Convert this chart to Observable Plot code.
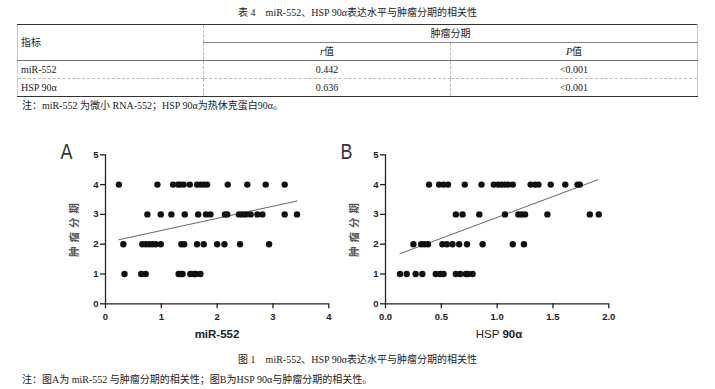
<!DOCTYPE html>
<html><head><meta charset="utf-8">
<script src="https://cdn.jsdelivr.net/npm/d3@7"></script>
<script src="https://cdn.jsdelivr.net/npm/@observablehq/plot@0.6"></script>
<style>
body{margin:0;background:#fff;}
#page{position:relative;width:715px;height:389px;overflow:hidden;font-family:"Liberation Serif","Noto Sans CJK SC",serif;color:#222;}
.abs{position:absolute;white-space:nowrap;}
.cap{font-size:10px;line-height:12px;}
table{position:absolute;left:17px;top:24px;border-collapse:collapse;font-size:10px;table-layout:fixed;}
td{padding:0;height:17px;line-height:17px;vertical-align:middle;}
.plotbox{position:absolute;top:138px;}
</style></head><body><div id="page">
<div class="abs cap" id="t4" style="left:0;width:715px;text-align:center;top:7px;"></div>
<table id="tbl"></table>
<div class="abs cap" id="tnote" style="left:22px;top:100px;"></div>
<div class="plotbox" id="pa" style="left:50px;"></div>
<div class="plotbox" id="pb" style="left:330px;"></div>
<div class="abs cap" id="fcap" style="left:0;width:715px;text-align:center;top:354px;"></div>
<div class="abs cap" id="fnote" style="left:22px;top:374px;"></div>
</div>
<script>
// ---------- texts ----------
const tableTitle = "表 4\u3000miR-552、HSP 90α表达水平与肿瘤分期的相关性";
const headerIndicator = "指标";
const headerGroup = "肿瘤分期";
const headerR = "值";
const headerP = "值";
const rowLabels = ["miR-552", "HSP 90α"];
const rValues = ["0.442", "0.636"];
const pValues = ["<0.001", "<0.001"];
const tableNote = "注：miR-552 为微小 RNA-552；HSP 90α为热休克蛋白90α。";
const figCaption = "图 1\u3000miR-552、HSP 90α表达水平与肿瘤分期的相关性";
const figNote = "注：图A为 miR-552 与肿瘤分期的相关性；图B为HSP 90α与肿瘤分期的相关性。";
const yLabel = "肿瘤分期";

// ---------- panel A: miR-552 vs stage ----------
const mirStage4 = [0.24, 0.93, 1.21, 1.30, 1.34, 1.40, 1.51, 1.64, 1.70, 1.76, 1.82, 2.19, 2.54, 2.87, 3.21];
const mirStage3 = [0.75, 0.99, 1.18, 1.42, 1.66, 1.80, 1.88, 2.14, 2.18, 2.39, 2.45, 2.51, 2.60, 2.72, 2.81, 3.21, 3.43];
const mirStage2 = [0.32, 0.66, 0.72, 0.78, 0.84, 0.90, 0.99, 1.36, 1.41, 1.64, 1.76, 2.00, 2.13, 2.41, 2.93];
const mirStage1 = [0.34, 0.64, 0.72, 1.31, 1.35, 1.38, 1.52, 1.58, 1.62, 1.70];
const mirFitX = [0.24, 3.43];
const mirFitY = [2.15, 3.45];
const mirTicks = [0, 1, 2, 3, 4];

// ---------- panel B: HSP 90α vs stage ----------
const hspStage4 = [0.39, 0.48, 0.52, 0.56, 0.71, 0.86, 0.97, 1.01, 1.04, 1.07, 1.10, 1.14, 1.30, 1.34, 1.37, 1.48, 1.61, 1.72, 1.74];
const hspStage3 = [0.63, 0.69, 0.84, 1.07, 1.19, 1.22, 1.25, 1.45, 1.83, 1.91];
const hspStage2 = [0.25, 0.32, 0.35, 0.38, 0.51, 0.55, 0.60, 0.66, 0.73, 0.87, 1.14, 1.24];
const hspStage1 = [0.13, 0.19, 0.27, 0.33, 0.45, 0.49, 0.52, 0.63, 0.67, 0.72, 0.74, 0.78];
const hspFitX = [0.13, 1.90];
const hspFitY = [1.68, 4.16];
const hspTicks = [0, 0.5, 1.0, 1.5, 2.0];

const stageTicks = [0, 1, 2, 3, 4, 5];

// ---------- table ----------
document.getElementById("t4").textContent = tableTitle;
document.getElementById("tnote").textContent = tableNote;
document.getElementById("fcap").textContent = figCaption;
document.getElementById("fnote").textContent = figNote;

const tbl = d3.select("#tbl");
const cg = tbl.append("colgroup");
[186, 247, 247].forEach(w => cg.append("col").style("width", w + "px"));
const thick = "1.5px solid #333", thin = "1px solid #777", dash = "1px dashed #bbb", side = "1px solid #ccc";
const h1 = tbl.append("tr");
h1.append("td").attr("rowspan", 2).text(headerIndicator)
  .style("padding-left", "3px").style("border-top", thick).style("border-left", side)
  .style("border-right", dash).style("border-bottom", thin);
h1.append("td").attr("colspan", 2).text(headerGroup).style("text-align", "center")
  .style("border-top", thick).style("border-right", side).style("border-bottom", "1px solid #888");
const h2 = tbl.append("tr");
const rc = h2.append("td").style("text-align", "center").style("border-bottom", thin).style("border-right", dash);
rc.append("i").text("r"); rc.append("span").text(headerR);
const pc = h2.append("td").style("text-align", "center").style("border-bottom", thin).style("border-right", side);
pc.append("i").text("P"); pc.append("span").text(headerP);
rowLabels.forEach((lab, i) => {
  const last = i === rowLabels.length - 1;
  const bb = last ? thick : dash;
  const tr = tbl.append("tr");
  tr.append("td").text(lab).style("padding-left", "3px").style("border-left", side).style("border-right", dash).style("border-bottom", bb);
  tr.append("td").text(rValues[i]).style("text-align", "center").style("border-right", dash).style("border-bottom", bb);
  tr.append("td").text(pValues[i]).style("text-align", "center").style("border-right", side).style("border-bottom", bb);
});

// ---------- charts ----------
function rows(stageArrays) {
  const out = [];
  stageArrays.forEach(([stage, xs]) => xs.forEach(x => out.push({x, y: stage})));
  return out;
}
function panel(el, {letter, data, fitX, fitY, xTicks, xFormat, labelParts, labelCenter}) {
  const fit = fitX.map((x, i) => ({x, y: fitY[i]}));
  const xDomain = [xTicks[0], xTicks[xTicks.length - 1]];
  const W = 290, H = 210;
  const plot = Plot.plot({
    width: W, height: H,
    marginLeft: 55, marginRight: 11.7, marginTop: 16.3, marginBottom: 44.7,
    x: {domain: xDomain},
    y: {domain: [0, 5]},
    style: {fontFamily: "'Liberation Sans', Arial, sans-serif", fontSize: "9.5px", fontWeight: "bold", color: "#222", background: "transparent", overflow: "visible"},
    marks: [
      Plot.axisX({ticks: xTicks, tickSize: 5, tickPadding: 4, tickFormat: xFormat, label: null, strokeWidth: 1.3}),
      Plot.axisY({ticks: stageTicks, tickSize: 5, tickPadding: 2, tickFormat: d3.format("d"), label: null, strokeWidth: 1.3}),
      Plot.ruleX([xDomain[0]], {stroke: "#222", strokeWidth: 1.3}),
      Plot.ruleY([0], {stroke: "#222", strokeWidth: 1.3}),
      Plot.line(fit, {x: "x", y: "y", stroke: "#666", strokeWidth: 1}),
      Plot.dot(data, {x: "x", y: "y", r: 3.2, fill: "#111", stroke: "none"})
    ]
  });
  const svg = d3.select(plot);
  svg.append("text").attr("x", 16.5).attr("y", 20.5)
    .attr("font-family", "'Liberation Sans', sans-serif")
    .attr("textLength", 12).attr("lengthAdjust", "spacingAndGlyphs")
    .attr("font-size", 22).attr("font-weight", "normal").attr("fill", "#333").text(letter);
  svg.append("text").attr("transform", "translate(25,90) rotate(-90)")
    .attr("text-anchor", "middle").attr("dominant-baseline", "middle")
    .attr("font-family", "'Noto Sans CJK SC', sans-serif").attr("font-size", 10.5)
    .attr("font-weight", "bold").attr("letter-spacing", 4).attr("fill", "#555").text(yLabel);
  const xl = svg.append("text").attr("x", labelCenter).attr("y", 197)
    .attr("text-anchor", "middle").attr("dominant-baseline", "middle")
    .attr("font-family", "'Liberation Sans', Arial, sans-serif").attr("font-size", 11.5).attr("fill", "#222");
  labelParts.forEach(([t, w]) => xl.append("tspan").attr("font-weight", w).text(t));
  document.getElementById(el).append(plot);
}

panel("pa", {
  letter: "A",
  data: rows([[4, mirStage4], [3, mirStage3], [2, mirStage2], [1, mirStage1]]),
  fitX: mirFitX, fitY: mirFitY, xTicks: mirTicks, xFormat: d3.format("d"),
  labelParts: [["miR-552", "bold"]], labelCenter: 167
});
panel("pb", {
  letter: "B",
  data: rows([[4, hspStage4], [3, hspStage3], [2, hspStage2], [1, hspStage1]]),
  fitX: hspFitX, fitY: hspFitY, xTicks: hspTicks, xFormat: d3.format(".1f"),
  labelParts: [["HSP ", "normal"], ["90α", "bold"]], labelCenter: 169
});
</script>
</body></html>
